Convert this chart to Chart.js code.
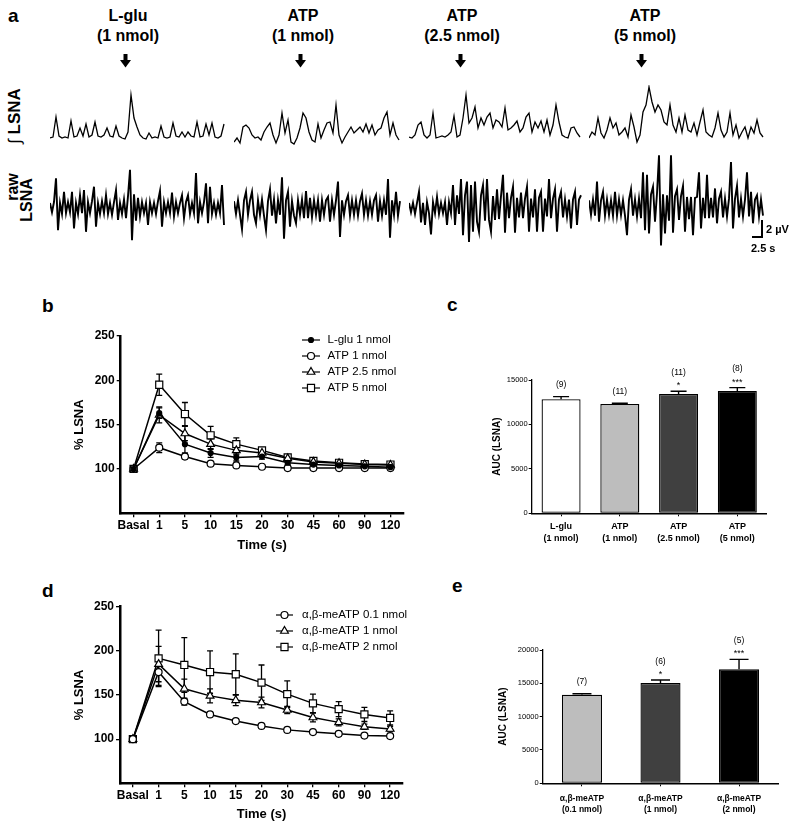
<!DOCTYPE html>
<html><head><meta charset="utf-8">
<script src="https://cdn.jsdelivr.net/npm/chart.js@4.4.1/dist/chart.umd.min.js"></script>
<style>
html,body{margin:0;padding:0;background:#fff;}
#page{position:relative;width:798px;height:822px;overflow:hidden;font-family:'Liberation Sans',Arial,Helvetica,sans-serif;color:#000;background:#fff;}
canvas{position:absolute;}
.t{position:absolute;white-space:nowrap;font-weight:bold;z-index:2;}
.title{position:absolute;width:140px;text-align:center;font-size:16px;line-height:20px;font-weight:bold;}
.letter{position:absolute;font-size:19px;line-height:19px;font-weight:bold;}
.rot{position:absolute;text-align:center;white-space:nowrap;font-weight:bold;transform:rotate(-90deg);transform-origin:50% 50%;}
.bar{position:absolute;background:#000;z-index:2;}
svg{position:absolute;}
</style></head>
<body><div id="page">

<div class="letter" style="left:8px;top:5.6px">a</div>
<div class="letter" style="left:42px;top:295.6px">b</div>
<div class="letter" style="left:447px;top:294.6px">c</div>
<div class="letter" style="left:42px;top:580.6px">d</div>
<div class="letter" style="left:452px;top:576.2px">e</div>

<div id="titles"></div>

<div class="rot" style="left:-20px;top:106px;width:70px;height:20px;line-height:20px;font-size:17px"><span style="font-weight:normal">&#8747;</span> LSNA</div>
<div class="rot" style="left:-17px;top:177px;width:60px;height:20px;line-height:20px;font-size:16px">raw</div>
<div class="rot" style="left:-3px;top:189.5px;width:60px;height:20px;line-height:20px;font-size:16px">LSNA</div>

<canvas id="int0" width="176" height="70" style="left:50px;top:85px"></canvas>
<canvas id="int1" width="176" height="70" style="left:234px;top:85px"></canvas>
<canvas id="int2" width="176" height="70" style="left:409px;top:85px"></canvas>
<canvas id="int3" width="176" height="70" style="left:589px;top:85px"></canvas>
<canvas id="raw0" width="176" height="116" style="left:50px;top:150px"></canvas>
<canvas id="raw1" width="176" height="116" style="left:234px;top:150px"></canvas>
<canvas id="raw2" width="176" height="116" style="left:409px;top:150px"></canvas>
<canvas id="raw3" width="176" height="116" style="left:589px;top:150px"></canvas>

<div class="bar" style="left:761px;top:220px;width:1.5px;height:17px"></div>
<div class="bar" style="left:752px;top:236px;width:11px;height:1.5px"></div>
<div class="t" style="left:766px;top:222px;font-size:11px;line-height:14px">2 µV</div>
<div class="t" style="left:751px;top:241px;font-size:11px;line-height:14px">2.5 s</div>

<canvas id="chartB" width="345" height="262" style="left:68px;top:300px"></canvas>
<canvas id="chartC" width="290" height="215" style="left:487px;top:340px"></canvas>
<canvas id="chartD" width="355" height="252" style="left:68px;top:570px"></canvas>
<canvas id="chartE" width="295" height="202" style="left:493px;top:620px"></canvas>

</div>
<script>
// ---------------- DATA ----------------
// Panel a: injections
const traceTitles = [['L-glu','(1 nmol)'], ['ATP','(1 nmol)'], ['ATP','(2.5 nmol)'], ['ATP','(5 nmol)']];
// integrated LSNA (a.u., sampled every 0.75 s)
const intLGlu1 = [3,4,24,5,3,4,3,20,4,5,13,5,17,4,6,19,5,4,6,13,5,4,15,5,3,2,9,46,23,14,6,3,2,8,3,4,3,15,4,3,4,18,5,4,9,4,9,5,4,19,4,5,17,6,18,4,3,5,17];
const intATP1 = [-1,3,-2,14,16,13,6,3,4,1,9,14,18,6,-2,6,28,8,21,-1,-3,3,13,28,23,9,1,-1,17,3,11,18,19,8,36,6,-2,4,9,14,8,11,14,9,17,8,16,6,11,13,23,29,6,18,6,1];
const intATP25 = [4,3,6,16,19,6,3,6,28,3,4,5,4,6,9,25,4,6,23,46,18,23,34,13,23,16,24,28,13,21,19,14,33,11,13,16,20,9,13,24,28,9,19,13,20,9,21,6,16,36,19,6,4,3,13,14,8,4];
const intATP5 = [3,9,6,23,8,3,11,23,13,18,6,9,13,4,26,14,-1,6,29,36,54,39,29,36,31,19,16,36,16,9,23,9,26,11,9,18,6,19,31,9,6,4,13,28,11,4,9,28,6,16,3,9,14,3,14,8,21,8,4];
// raw LSNA (µV, sampled every 0.5 s)
const rawLGlu1 = [0.6,-0.5,0.7,3.5,-2.6,0.6,-0.7,1.9,-0.6,0.7,-0.5,1.9,-2.4,0.6,-0.7,1.5,-0.6,2.1,-2.8,0.7,-0.6,0.8,2.5,-2.2,0.6,-0.7,0.8,-0.6,1.5,-0.7,0.6,-0.8,0.7,2.1,-1.4,0.6,-0.7,1.0,-1.2,1.4,4.5,-3.8,1.6,-1.5,1.2,-1.0,0.7,-0.6,0.6,-2.0,0.7,-0.6,0.6,-0.7,0.8,2.0,-2.2,0.7,-0.6,0.7,-0.6,1.8,-1.0,0.7,-0.6,0.6,1.5,-1.2,0.7,1.5,-0.7,0.6,-0.6,4.1,-1.8,0.7,-0.6,0.7,2.9,-1.8,2.5,-0.7,0.6,-0.8,0.6,-0.6,2.7,-2.0];
const rawATP1 = [0.8,-0.7,0.9,-0.8,-2.5,0.9,1.9,-0.8,0.9,1.9,-0.8,-1.8,0.9,-0.8,1.0,-0.9,-2.6,0.8,2.2,-0.9,1.0,-1.8,0.9,-0.8,3.6,-3.6,0.9,1.9,-2.2,0.8,-0.9,-1.8,0.9,-0.8,1.0,-1.2,2.0,-1.2,1.2,-1.1,0.9,-0.8,0.9,-1.6,0.9,-0.8,0.9,1.3,-1.6,0.9,-0.8,0.9,3.1,-3.4,0.9,-0.8,0.8,1.5,-0.9,0.9,-0.8,0.9,-0.9,0.8,1.7,-0.8,0.9,-0.9,0.8,-0.8,0.9,1.5,-1.6,0.8,-0.9,0.9,-0.8,3.4,-3.5,0.9,-0.8,1.9,-0.9,0.8];
const rawATP25 = [0.6,-0.5,0.6,-0.7,0.6,1.9,-1.7,0.6,-2.0,0.7,-0.6,-3.1,0.7,-0.6,1.3,-0.7,0.6,-0.6,0.7,-2.0,0.7,-0.6,2.7,-2.0,1.5,-0.7,3.4,-3.2,1.5,3.1,-4.0,2.7,-2.8,3.1,-1.6,-2.8,1.5,2.7,-1.5,3.4,-1.4,-2.8,1.4,-1.4,2.2,-1.3,1.4,3.9,-2.9,1.8,-1.2,1.2,2.5,-2.9,1.2,-1.1,1.8,-1.2,1.1,2.5,-2.8,1.1,-1.1,2.2,-2.8,1.2,1.9,-2.8,1.1,-1.0,3.4,-1.2,1.1,2.2,-2.8,1.0,1.9,-1.1,1.0,-1.0,1.0,-2.4,1.0,1.9,-2.0,1.0,1.5];
const rawATP5 = [0.9,-0.8,1.0,-0.9,3.1,-1.6,0.9,1.9,-0.9,1.0,-0.8,0.9,-0.9,1.9,-0.9,1.0,-0.8,0.9,-0.9,-3.2,1.0,2.2,-0.9,1.0,-1.0,1.1,-1.2,4.2,-2.6,3.9,-3.0,1.6,2.5,-1.6,1.7,6.2,-4.4,1.6,-3.0,1.5,-1.5,6.2,-2.9,1.4,2.2,-1.4,1.4,2.6,-2.8,1.3,-1.3,1.3,-3.2,1.2,1.3,4.2,-2.4,1.2,-1.2,3.9,-1.2,1.2,-1.1,2.3,-1.8,1.1,1.9,-1.1,1.1,-1.0,1.1,5.4,-2.4,1.1,2.6,-1.1,1.1,-1.0,1.0,4.2,-1.0,1.9,-1.8,1.0,1.5,-1.0,1.0,-0.9];
const INT_DT = 0.75, RAW_DT = 0.5;

// Panel b: % LSNA time course
const timeLabels = ['Basal','1','5','10','15','20','30','45','60','90','120'];
const lglu1Mean = [100,163,128,118,113,114,107,105,104,103,102];
const lglu1Sem  = [0,6,10,5,4,3,2,1.5,1,1,1];
const atp1Mean  = [100,124,114,106,104,102.5,101,101,101,101,101];
const atp1Sem   = [0,5.5,3,2,1.5,1,1,1,1,1,1];
const atp25Mean = [100,161,140,128,121,118,112,108,106.5,105,104.5];
const atp25Sem  = [0,9,8,6,5,4,3,2,1.5,1.5,1.5];
const atp5Mean  = [100,195,162,138,128,121,113,109,107,105.5,105];
const atp5Sem   = [0,12,13,10,7,3,2,2,1.5,1.5,1.5];

// Panel c: AUC
const aucCats = [['L-glu','(1 nmol)'],['ATP','(1 nmol)'],['ATP','(2.5 nmol)'],['ATP','(5 nmol)']];
const aucMeans = [12830,12300,13430,13760];
const aucSems  = [300,80,300,380];
const aucN     = ['(9)','(11)','(11)','(8)'];
const aucSig   = ['','','*','***'];

// Panel d: alpha,beta-meATP time course
const me01Mean = [100,176,142.5,128,120.5,115,110.5,108,106,104,103.5];
const me01Sem  = [0,15,4,2,1.5,1.5,1.5,1,1,1,1];
const me1Mean  = [100,185,157,149,144,141.5,133,124.5,119,114,111.5];
const me1Sem   = [0,20,11,8,6,6,4,5,4,3,3];
const me2Mean  = [100,191.5,184,176,173.5,164,151,140.5,134,128,124];
const me2Sem   = [0,32,31,24,23,20,15,10.5,8.5,8,8];

// Panel e: AUC alpha,beta-meATP
const meAucCats  = [['α,β-meATP','(0.1 nmol)'],['α,β-meATP','(1 nmol)'],['α,β-meATP','(2 nmol)']];
const meAucMeans = [13300,15050,17100];
const meAucSems  = [130,450,1500];
const meAucN     = ['(7)','(6)','(5)'];
const meAucSig   = ['','*','***'];

// ---------------- RENDER ----------------
const FONT = "'Liberation Sans', Arial, Helvetica, sans-serif";
Chart.defaults.font.family = FONT;
Chart.defaults.color = '#000';

// titles + arrows (panel a)
const titleCenters = [128, 303, 462, 645];
const arrowCenters = [125.5, 300.5, 460, 641.7];
const tdiv = document.getElementById('titles');
traceTitles.forEach((t, i) => {
  const d = document.createElement('div');
  d.className = 'title';
  d.style.left = (titleCenters[i] - 70) + 'px';
  d.style.top = '6.4px';
  d.innerHTML = t[0] + '<br>' + t[1];
  tdiv.appendChild(d);
  const s = document.createElementNS('http://www.w3.org/2000/svg', 'svg');
  s.setAttribute('width', '11'); s.setAttribute('height', '14');
  s.style.left = (arrowCenters[i] - 5.5) + 'px'; s.style.top = '54px';
  s.innerHTML = '<rect x="3.5" y="0" width="4" height="7" fill="#000"/><polygon points="0,6 11,6 5.5,13.5" fill="#000"/>';
  tdiv.appendChild(s);
});

function traceChart(id, values, dt, yMin, yMax, lw) {
  new Chart(document.getElementById(id), {
    type: 'line',
    data: { datasets: [{ data: values.map((v, i) => ({ x: i * dt, y: v })), borderColor: '#000',
      borderWidth: lw, pointRadius: 0, tension: 0, fill: false }] },
    options: { responsive: false, animation: false, events: [], layout: { padding: 0 },
      plugins: { legend: { display: false }, tooltip: { enabled: false } },
      scales: { x: { type: 'linear', display: false, min: 0, max: 44 },
                y: { display: false, min: yMin, max: yMax } } }
  });
}
[intLGlu1, intATP1, intATP25, intATP5].forEach((v, i) => traceChart('int' + i, v, INT_DT, -14, 56, 1.3));
[rawLGlu1, rawATP1, rawATP25, rawATP5].forEach((v, i) => traceChart('raw' + i, v, RAW_DT, -6.82, 6.82, 1.9));

// marker drawing (for inside legend)
function drawMarker(ctx, style, r, x, y, fill) {
  ctx.beginPath();
  if (style === 'circle') { ctx.arc(x, y, r, 0, Math.PI * 2); }
  else if (style === 'triangle') {
    let a = 0;
    ctx.moveTo(x + Math.sin(a) * r, y - Math.cos(a) * r); a += 2 * Math.PI / 3;
    ctx.lineTo(x + Math.sin(a) * r, y - Math.cos(a) * r); a += 2 * Math.PI / 3;
    ctx.lineTo(x + Math.sin(a) * r, y - Math.cos(a) * r); ctx.closePath();
  } else { const s = r * Math.SQRT1_2; ctx.rect(x - s, y - s, 2 * s, 2 * s); }
  ctx.fillStyle = fill; ctx.fill(); ctx.lineWidth = 1.2; ctx.strokeStyle = '#000'; ctx.stroke();
}

const errorBars = {
  id: 'errorBars',
  beforeDatasetsDraw(chart, args, o) {
    const ctx = chart.ctx, ys = chart.scales.y;
    ctx.save(); ctx.strokeStyle = '#000'; ctx.lineWidth = 1.3;
    chart.data.datasets.forEach((ds, i) => {
      const meta = chart.getDatasetMeta(i);
      meta.data.forEach((pt, j) => {
        const e = ds.errors[j]; if (!e) return;
        const yT = ys.getPixelForValue(ds.data[j] + e), yB = ys.getPixelForValue(ds.data[j] - e), h = o.cap / 2;
        ctx.beginPath();
        ctx.moveTo(pt.x, yT); ctx.lineTo(pt.x, yB);
        ctx.moveTo(pt.x - h, yT); ctx.lineTo(pt.x + h, yT);
        ctx.moveTo(pt.x - h, yB); ctx.lineTo(pt.x + h, yB);
        ctx.stroke();
      });
    });
    ctx.restore();
  }
};

const insideLegend = {
  id: 'insideLegend',
  afterDraw(chart, args, o) {
    const ctx = chart.ctx, ca = chart.chartArea;
    ctx.save();
    chart.data.datasets.forEach((ds, i) => {
      const y = ca.top + o.y + i * o.rowH, x0 = ca.left + o.x;
      ctx.strokeStyle = '#000'; ctx.lineWidth = 1.2;
      ctx.beginPath(); ctx.moveTo(x0, y); ctx.lineTo(x0 + o.lineLen, y); ctx.stroke();
      drawMarker(ctx, ds.pointStyle, ds.pointRadius, x0 + o.lineLen / 2, y, ds.legendFill);
      ctx.fillStyle = '#000'; ctx.font = o.font; ctx.textAlign = 'left'; ctx.textBaseline = 'middle';
      ctx.fillText(ds.label, x0 + o.textX, y);
    });
    ctx.restore();
  }
};

const barNotes = {
  id: 'barNotes',
  afterDatasetsDraw(chart, args, o) {
    const ctx = chart.ctx, ys = chart.scales.y, ds = chart.data.datasets[0];
    const meta = chart.getDatasetMeta(0);
    ctx.save(); ctx.strokeStyle = '#000'; ctx.lineWidth = 1.4; ctx.fillStyle = '#000';
    ctx.textAlign = 'center'; ctx.textBaseline = 'middle';
    meta.data.forEach((bar, i) => {
      const top = ys.getPixelForValue(ds.data[i] + ds.errors[i]), h = o.cap / 2;
      ctx.beginPath();
      ctx.moveTo(bar.x, bar.y); ctx.lineTo(bar.x, top);
      ctx.moveTo(bar.x - h, top); ctx.lineTo(bar.x + h, top);
      ctx.stroke();
      if (o.sig[i]) {
        ctx.font = '9px ' + FONT; ctx.fillText(o.sig[i], bar.x, top - 5.5);
        ctx.font = '8.5px ' + FONT; ctx.fillText(o.n[i], bar.x, top - 18.5);
      } else {
        ctx.font = '8.5px ' + FONT; ctx.fillText(o.n[i], bar.x, top - 12);
      }
    });
    ctx.restore();
  }
};

function lineDs(label, mean, sem, style, r, fill) {
  return { label, data: mean, errors: sem, borderColor: '#000', borderWidth: 1.5,
    pointStyle: style, pointRadius: r, pointBorderWidth: 1.2, pointBorderColor: '#000',
    pointBackgroundColor: fill, legendFill: Array.isArray(fill) ? fill[1] : fill,
    tension: 0, fill: false };
}

function lineOpts(yW, xH, padR, padT, titlePadB, legend) {
  return {
    responsive: false, animation: false, events: [],
    layout: { padding: { left: 0, right: padR, top: padT, bottom: 0 } },
    plugins: { legend: { display: false }, tooltip: { enabled: false }, errorBars: { cap: 6 }, insideLegend: legend },
    scales: {
      x: { type: 'category', offset: true,
        grid: { display: true, drawOnChartArea: false, drawTicks: true, tickLength: 4, color: '#000', lineWidth: 1.3, offset: false },
        border: { display: true, color: '#000', width: 2.5 },
        ticks: { font: { size: 12, weight: 'bold' }, padding: 1, maxRotation: 0, autoSkip: false },
        title: { display: true, text: 'Time (s)', font: { size: 13, weight: 'bold' }, padding: { top: 0, bottom: titlePadB } },
        afterFit(s) { s.height = xH; } },
      y: { min: 50, max: 250,
        afterBuildTicks(s) { s.ticks = s.ticks.filter(t => t.value !== 50); },
        grid: { display: true, drawOnChartArea: false, drawTicks: true, tickLength: 4, color: '#000', lineWidth: 1.3 },
        border: { display: true, color: '#000', width: 2.5 },
        ticks: { stepSize: 50, font: { size: 12, weight: 'bold' }, padding: 2 },
        title: { display: true, text: '% LSNA', font: { size: 13, weight: 'bold' }, padding: { top: 4, bottom: 2 } },
        afterFit(s) { s.width = yW; } }
    }
  };
}

const basalBlack = atp5Mean.map((v, i) => i === 0 ? '#000' : '#fff');

new Chart(document.getElementById('chartB'), {
  type: 'line',
  data: { labels: timeLabels, datasets: [
    lineDs('L-glu 1 nmol', lglu1Mean, lglu1Sem, 'circle', 2.5, '#000'),
    lineDs('ATP 1 nmol', atp1Mean, atp1Sem, 'circle', 3.5, '#fff'),
    lineDs('ATP 2.5 nmol', atp25Mean, atp25Sem, 'triangle', 4.5, '#fff'),
    lineDs('ATP 5 nmol', atp5Mean, atp5Sem, 'rect', 5, basalBlack)
  ] },
  options: lineOpts(52.7, 48.7, 9.7, 36, 9, { x: 181.3, y: 4, rowH: 16, lineLen: 18, textX: 25.5, font: '11.5px ' + FONT }),
  plugins: [errorBars, insideLegend]
});

const basalBlack2 = me2Mean.map((v, i) => i === 0 ? '#000' : '#fff');
new Chart(document.getElementById('chartD'), {
  type: 'line',
  data: { labels: timeLabels, datasets: [
    lineDs('α,β-meATP 0.1 nmol', me01Mean, me01Sem, 'circle', 3.5, '#fff'),
    lineDs('α,β-meATP 1 nmol', me1Mean, me1Sem, 'triangle', 4.5, '#fff'),
    lineDs('α,β-meATP 2 nmol', me2Mean, me2Sem, 'rect', 5, basalBlack2)
  ] },
  options: lineOpts(52, 38.7, 20, 36.7, 0.2, { x: 156, y: 8.3, rowH: 16, lineLen: 17, textX: 26, font: '11.5px ' + FONT }),
  plugins: [errorBars, insideLegend]
});

function barChart(id, cats, means, sems, n, sig, colors, yMax, yW, xH, padR, padT, barPct, tickPad, tickFont, cap) {
  new Chart(document.getElementById(id), {
    type: 'bar',
    data: { labels: cats, datasets: [{ data: means, errors: sems, backgroundColor: colors,
      borderColor: '#000', borderWidth: 1.3, borderSkipped: false, barPercentage: barPct, categoryPercentage: 1 }] },
    options: {
      responsive: false, animation: false, events: [],
      layout: { padding: { left: 0, right: padR, top: padT, bottom: 0 } },
      plugins: { legend: { display: false }, tooltip: { enabled: false }, barNotes: { n, sig, cap } },
      scales: {
        x: { grid: { display: true, drawOnChartArea: false, drawTicks: true, tickLength: 3, color: '#000', lineWidth: 1, offset: false },
          border: { display: true, color: '#000', width: 1.6 },
          ticks: { font: { size: tickFont, weight: 'bold', lineHeight: 1.3 }, padding: tickPad, maxRotation: 0, autoSkip: false },
          afterFit(s) { s.height = xH; } },
        y: { min: 0, max: yMax,
          grid: { display: true, drawOnChartArea: false, drawTicks: true, tickLength: 3, color: '#000', lineWidth: 1 },
          border: { display: true, color: '#000', width: 1.3 },
          ticks: { stepSize: 5000, font: { size: 7.5 }, padding: 1, callback: (v) => String(v) },
          title: { display: true, text: 'AUC (LSNA)', font: { size: 10, weight: 'bold' }, padding: { top: 4, bottom: 2 } },
          afterFit(s) { s.width = yW; } }
      }
    },
    plugins: [barNotes]
  });
}

barChart('chartC', aucCats, aucMeans, aucSems, aucN, aucSig, ['#ffffff', '#bdbdbd', '#404040', '#000000'],
  15000, 44.7, 41.7, 10.3, 40, 0.664, 4.5, 9, 16);
barChart('chartE', meAucCats, meAucMeans, meAucSems, meAucN, meAucSig, ['#bdbdbd', '#404040', '#000000'],
  20000, 49.7, 38.7, 9.7, 30, 0.51, 6.5, 8.5, 19);
</script>
</body></html>
